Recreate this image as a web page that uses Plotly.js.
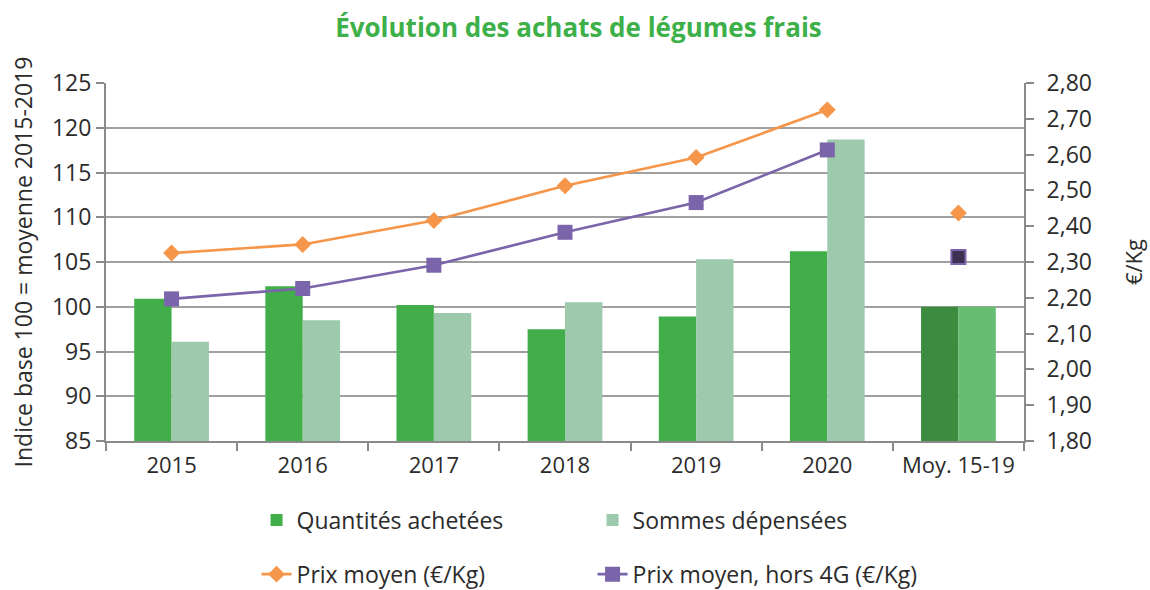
<!DOCTYPE html>
<html>
<head>
<meta charset="utf-8">
<script src="https://cdn.plot.ly/plotly-3.0.1.min.js"></script>
<style>html,body{margin:0;padding:0;background:#fff;}#chart{width:1150px;height:590px;}</style>
</head>
<body>
<div id="chart"></div>
<script>
var categories = ["2015", "2016", "2017", "2018", "2019", "2020", "Moy. 15-19"];
var quantites = [100.9, 102.3, 100.2, 97.5, 98.9, 106.2, 100];
var sommes = [96.1, 98.5, 99.3, 100.5, 105.3, 118.7, 100];
var prixMoyen = [2.325, 2.349, 2.416, 2.513, 2.592, 2.725, 2.437];
var prixHors4G = [2.197, 2.226, 2.291, 2.383, 2.466, 2.613, 2.314];
var leftTicks = [85, 90, 95, 100, 105, 110, 115, 120, 125];
var rightTicks = [1.8, 1.9, 2.0, 2.1, 2.2, 2.3, 2.4, 2.5, 2.6, 2.7, 2.8];

var n = categories.length;
var qColors = categories.map(function (c, i) { return i === n - 1 ? "#3c8c40" : "#41ae4a"; });
var sColors = categories.map(function (c, i) { return i === n - 1 ? "#66bd72" : "#9dc9ad"; });
var lineCats = categories.slice(0, n - 1);
var moyCat = [categories[n - 1]];

var font = "Open Sans, sans-serif";
var txt = "#2b2b2b";

var traces = [
  { type: "bar", name: "Quantités achetées", x: categories, y: quantites,
    marker: { color: qColors }, legend: "legend", hoverinfo: "x+y" },
  { type: "bar", name: "Sommes dépensées", x: categories, y: sommes,
    marker: { color: sColors }, legend: "legend", hoverinfo: "x+y" },
  { type: "scatter", mode: "lines+markers", name: "Prix moyen (€/Kg)", x: lineCats,
    y: prixMoyen.slice(0, n - 1), yaxis: "y2", legend: "legend2",
    line: { color: "#f5964b", width: 2.7 },
    marker: { symbol: "diamond", size: 13, color: "#f5964b" } },
  { type: "scatter", mode: "lines+markers", name: "Prix moyen, hors 4G (€/Kg)", x: lineCats,
    y: prixHors4G.slice(0, n - 1), yaxis: "y2", legend: "legend2",
    line: { color: "#7b65aa", width: 2.7 },
    marker: { symbol: "square", size: 15, color: "#7b65aa" } },
  { type: "scatter", mode: "markers", showlegend: false, x: moyCat,
    y: prixMoyen.slice(n - 1), yaxis: "y2",
    marker: { symbol: "diamond", size: 13, color: "#f5964b" } },
  { type: "scatter", mode: "markers", showlegend: false, x: moyCat,
    y: prixHors4G.slice(n - 1), yaxis: "y2",
    marker: { symbol: "square", size: 14, color: "#3d3050", line: { color: "#7b65aa", width: 2 } } }
];

var layout = {
  width: 1150, height: 590,
  margin: { l: 106, r: 126, t: 83, b: 149, autoexpand: false },
  paper_bgcolor: "#fff", plot_bgcolor: "#fff",
  separators: ", ",
  font: { family: font, size: 22, color: txt },
  title: { text: "Évolution des achats de légumes frais", x: 0.503, xref: "container", xanchor: "center",
           y: 1 - 28 / 590, yref: "container", yanchor: "middle",
           font: { family: font, size: 26, color: "#3db049", weight: "bold" } },
  barmode: "group", bargap: 0.43, bargroupgap: 0,
  xaxis: { type: "category", categoryarray: categories, tickson: "boundaries",
           ticks: "outside", ticklen: 8, tickwidth: 2, tickcolor: "#8a8a8a",
           showline: true, linecolor: "#8a8a8a", linewidth: 2, showgrid: false,
           ticklabelstandoff: 4,
           tickfont: { family: font, size: 22, color: txt }, fixedrange: true },
  yaxis: { range: [85, 125], tickvals: leftTicks, ticks: "outside", ticklen: 8, tickwidth: 2,
           tickcolor: "#8a8a8a", showline: true, linecolor: "#8a8a8a", linewidth: 2,
           showgrid: true, gridcolor: "#a0a0a0", gridwidth: 2, zeroline: false,
           tickfont: { family: font, size: 23, color: txt },
           title: { text: "Indice base 100 = moyenne 2015-2019", standoff: 13,
                    font: { family: font, size: 23, color: txt } } },
  yaxis2: { overlaying: "y", side: "right", range: [1.8, 2.8], tickvals: rightTicks,
            tickformat: ".2f", ticks: "outside", ticklen: 8, tickwidth: 2, tickcolor: "#8a8a8a",
            showline: true, linecolor: "#8a8a8a", linewidth: 2, showgrid: false, zeroline: false,
            ticklabelstandoff: 8,
            tickfont: { family: font, size: 23, color: txt },
            title: { text: "€/Kg", standoff: 36, font: { family: font, size: 22, color: txt } } },
  legend: { orientation: "h", x: 0.164, xanchor: "left", y: -0.2207, yanchor: "middle",
            entrywidth: 291, entrywidthmode: "pixels",
            font: { family: font, size: 23, color: txt }, bgcolor: "rgba(0,0,0,0)" },
  legend2: { orientation: "h", x: 0.164, xanchor: "left", y: -0.372, yanchor: "middle",
             entrywidth: 291, entrywidthmode: "pixels",
             font: { family: font, size: 23, color: txt }, bgcolor: "rgba(0,0,0,0)" },
  showlegend: true
};

Plotly.newPlot("chart", traces, layout, { displayModeBar: false, staticPlot: true });
</script>
</body>
</html>
